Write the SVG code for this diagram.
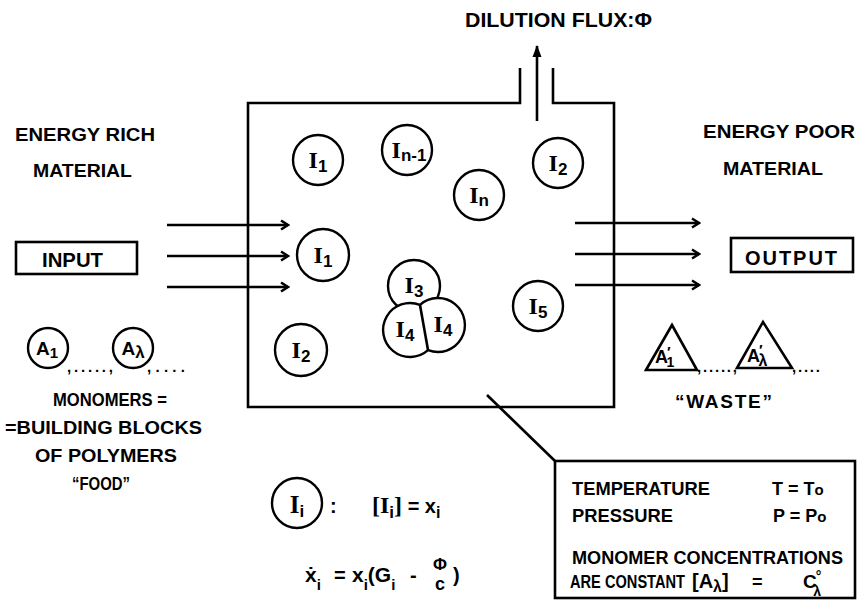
<svg xmlns="http://www.w3.org/2000/svg" width="859" height="600" viewBox="0 0 859 600">
<defs>
<style>
.ln{fill:none;stroke:#000;stroke-width:2.6;stroke-linejoin:miter}
.c{fill:#fff;stroke:#000;stroke-width:2.4}
.t{font-family:"Liberation Sans",Arial,sans-serif;font-weight:bold;font-size:18px;fill:#000}
.I{font-family:"Liberation Serif","Times New Roman",serif;font-weight:bold;font-size:24px;fill:#000}
.s{font-family:"Liberation Sans",Arial,sans-serif;font-weight:bold;font-size:17px}
.d{font-family:"Liberation Sans",Arial,sans-serif;font-weight:bold;font-size:15px;fill:#000}
</style>
<marker id="ah" markerWidth="12" markerHeight="12" refX="10" refY="6" orient="auto" markerUnits="userSpaceOnUse">
<path d="M3,1.5 L10,6 L3,10.5" fill="none" stroke="#000" stroke-width="2.4"/>
</marker>
<marker id="ahf" markerWidth="12" markerHeight="14" refX="11" refY="6" orient="auto" markerUnits="userSpaceOnUse">
<path d="M0,1.5 L12,6 L0,10.5 Z" fill="#000"/>
</marker>
</defs>
<rect width="859" height="600" fill="#fff"/>

<g id="title">
<text class="t" x="465" y="27" style="font-size:20px" textLength="187" lengthAdjust="spacingAndGlyphs">DILUTION FLUX:Φ</text>
</g>

<g id="reactor">
<path class="ln" d="M520,68 L520,103 L248,103 L248,407 L614,407 L614,103 L553,103 L553,68" stroke-width="2.8"/>
</g>

<g id="connectors">
<line class="ln" x1="537" y1="121" x2="537" y2="46" marker-end="url(#ahf)"/>
<line class="ln" x1="167" y1="225" x2="288" y2="225" marker-end="url(#ah)"/>
<line class="ln" x1="167" y1="256" x2="288" y2="256" marker-end="url(#ah)"/>
<line class="ln" x1="167" y1="287" x2="288" y2="287" marker-end="url(#ah)"/>
<line class="ln" x1="575" y1="223" x2="699" y2="223" marker-end="url(#ah)"/>
<line class="ln" x1="575" y1="254" x2="699" y2="254" marker-end="url(#ah)"/>
<line class="ln" x1="575" y1="285" x2="699" y2="285" marker-end="url(#ah)"/>
<line class="ln" x1="487" y1="395" x2="555" y2="461"/>
</g>

<g id="n-I1a"><circle class="c" cx="318" cy="160" r="25"/><text class="I" x="318" y="168" text-anchor="middle">I<tspan class="s" dy="4">1</tspan></text></g>
<g id="n-In1"><circle class="c" cx="407" cy="150" r="25"/><text class="I" x="409" y="158" text-anchor="middle">I<tspan class="s" dy="3">n-1</tspan></text></g>
<g id="n-In"><circle class="c" cx="479" cy="195" r="25"/><text class="I" x="479" y="203" text-anchor="middle">I<tspan class="s" dy="3">n</tspan></text></g>
<g id="n-I2a"><circle class="c" cx="558" cy="163" r="25"/><text class="I" x="558" y="171" text-anchor="middle">I<tspan class="s" dy="4">2</tspan></text></g>
<g id="n-I1b"><circle class="c" cx="323" cy="255" r="26"/><text class="I" x="323" y="263" text-anchor="middle">I<tspan class="s" dy="4">1</tspan></text></g>
<g id="n-I2b"><circle class="c" cx="301" cy="350" r="26"/><text class="I" x="301" y="358" text-anchor="middle">I<tspan class="s" dy="4">2</tspan></text></g>
<g id="n-I3"><circle class="c" cx="414" cy="286" r="26"/><text class="I" x="414" y="293" text-anchor="middle">I<tspan class="s" dy="4">3</tspan></text></g>
<g id="n-I4">
<path class="c" d="M419.95,304.85 A27,27 0 1,0 428.05,350.15 A27,27 0 1,0 419.95,304.85 Z"/>
<line class="ln" stroke-width="2.4" x1="419.95" y1="304.85" x2="428.05" y2="350.15"/>
<text class="I" x="405" y="337" text-anchor="middle">I<tspan class="s" dy="4">4</tspan></text>
<text class="I" x="443" y="332" text-anchor="middle">I<tspan class="s" dy="4">4</tspan></text>
</g>
<g id="n-I5"><circle class="c" cx="538" cy="306" r="25"/><text class="I" x="538" y="314" text-anchor="middle">I<tspan class="s" dy="4">5</tspan></text></g>

<g id="left-labels">
<text class="t" x="15" y="141" style="font-size:19px" textLength="140" lengthAdjust="spacingAndGlyphs">ENERGY RICH</text>
<text class="t" x="33" y="177" style="font-size:19px" textLength="99" lengthAdjust="spacingAndGlyphs">MATERIAL</text>
</g>
<g id="input">
<rect class="ln" x="16" y="242" width="121" height="32" stroke-width="2.4"/>
<text class="t" x="42" y="267" style="font-size:20px" textLength="61" lengthAdjust="spacingAndGlyphs">INPUT</text>
</g>

<g id="monomers">
<circle class="c" cx="48" cy="348" r="20"/>
<text class="t" x="47" y="355" text-anchor="middle" style="font-size:19px">A<tspan style="font-size:15px" dy="3">1</tspan></text>
<circle class="c" cx="133" cy="348" r="20"/>
<text class="t" x="133" y="355" text-anchor="middle" style="font-size:19px">A<tspan style="font-size:17px" dy="3">λ</tspan></text>
<text class="d" x="67" y="372" textLength="46">,.....,</text>
<text class="d" x="147" y="372" textLength="38">,....</text>
<text class="t" x="53" y="406" style="font-size:19px" textLength="114" lengthAdjust="spacingAndGlyphs">MONOMERS =</text>
<text class="t" x="5" y="434" style="font-size:19px" textLength="197" lengthAdjust="spacingAndGlyphs">=BUILDING  BLOCKS</text>
<text class="t" x="35" y="462" style="font-size:19px" textLength="142" lengthAdjust="spacingAndGlyphs">OF POLYMERS</text>
<text class="t" x="72" y="490" style="font-size:19px" textLength="58" lengthAdjust="spacingAndGlyphs">“FOOD”</text>
</g>

<g id="right-labels">
<text class="t" x="703" y="138" style="font-size:19px" textLength="152" lengthAdjust="spacingAndGlyphs">ENERGY POOR</text>
<text class="t" x="723" y="175" style="font-size:19px" textLength="100" lengthAdjust="spacingAndGlyphs">MATERIAL</text>
</g>
<g id="output">
<rect class="ln" x="731" y="238" width="122" height="34" stroke-width="2.4"/>
<text class="t" x="745" y="265" style="font-size:20px" textLength="92">OUTPUT</text>
</g>

<g id="waste">
<path class="ln" d="M646,370 L672,325 L697,370 Z" stroke-width="2.4"/>
<text class="t" x="655" y="363" style="font-size:18px">A<tspan class="s" style="font-size:15px" dx="-1" dy="-6">′</tspan><tspan class="s" style="font-size:14px" dx="-4" dy="10">1</tspan></text>
<path class="ln" d="M737,368 L763,322 L792,368 Z" stroke-width="2.4"/>
<text class="t" x="747" y="362" style="font-size:18px">A<tspan class="s" style="font-size:15px" dx="-1" dy="-7">′</tspan><tspan style="font-size:16px" dx="-4" dy="11">λ</tspan></text>
<text class="d" x="697" y="372" textLength="40">,.....,</text>
<text class="d" x="792" y="372" textLength="28">,....</text>
<text class="t" x="675" y="408" style="font-size:19px" textLength="97">“WASTE”</text>
</g>

<g id="legend">
<circle class="c" cx="297" cy="503" r="25"/>
<text class="I" x="297" y="513" text-anchor="middle" style="font-size:25px">I<tspan class="s" dy="4">i</tspan></text>
<text class="t" x="330" y="513" style="font-size:20px">:</text>
<text class="I" x="372" y="513" style="font-size:24px">[I<tspan class="s" dy="5">i</tspan><tspan dy="-5">]</tspan><tspan class="s" style="font-size:20px"> = x</tspan><tspan class="s" style="font-size:16px" dy="5">i</tspan></text>
<text class="t" x="305" y="582" style="font-size:21px">ẋ<tspan class="s" style="font-size:15px" dy="8">i</tspan></text>
<text class="t" x="334" y="582" style="font-size:20px">=</text>
<text class="t" x="352" y="582" style="font-size:21px">x<tspan class="s" style="font-size:15px" dy="8">i</tspan><tspan dy="-8">(G</tspan><tspan class="s" style="font-size:15px" dy="8">i</tspan></text>
<text class="t" x="410" y="582" style="font-size:20px">-</text>
<text class="t" x="440" y="570" style="font-size:17px" text-anchor="middle">Φ</text>
<text class="t" x="440" y="590" style="font-size:18px" text-anchor="middle">c</text>
<text class="t" x="453" y="582" style="font-size:20px">)</text>
</g>

<g id="conditions">
<rect class="ln" x="555" y="461" width="300" height="137" stroke-width="2.4"/>
<text class="t" x="572" y="495" textLength="138" lengthAdjust="spacingAndGlyphs">TEMPERATURE</text>
<text class="t" x="772" y="495">T = T<tspan style="font-size:15px">o</tspan></text>
<text class="t" x="572" y="522" textLength="101" lengthAdjust="spacingAndGlyphs">PRESSURE</text>
<text class="t" x="773" y="522">P = P<tspan style="font-size:15px">o</tspan></text>
<text class="t" x="572" y="564" textLength="271" lengthAdjust="spacingAndGlyphs">MONOMER CONCENTRATIONS</text>
<text class="t" x="570" y="588" style="font-size:19px" textLength="115" lengthAdjust="spacingAndGlyphs">ARE CONSTANT</text>
<text class="t" x="692" y="588" style="font-size:20px">[A<tspan style="font-size:16px" dy="4">λ</tspan><tspan style="font-size:20px" dy="-4">]</tspan></text>
<text class="t" x="752" y="588">=</text>
<text class="t" x="803" y="588" style="font-size:19px">C<tspan class="s" style="font-size:14px" dx="-1" dy="-7">°</tspan><tspan style="font-size:14px" dx="-8" dy="15">λ</tspan></text>
</g>
</svg>
